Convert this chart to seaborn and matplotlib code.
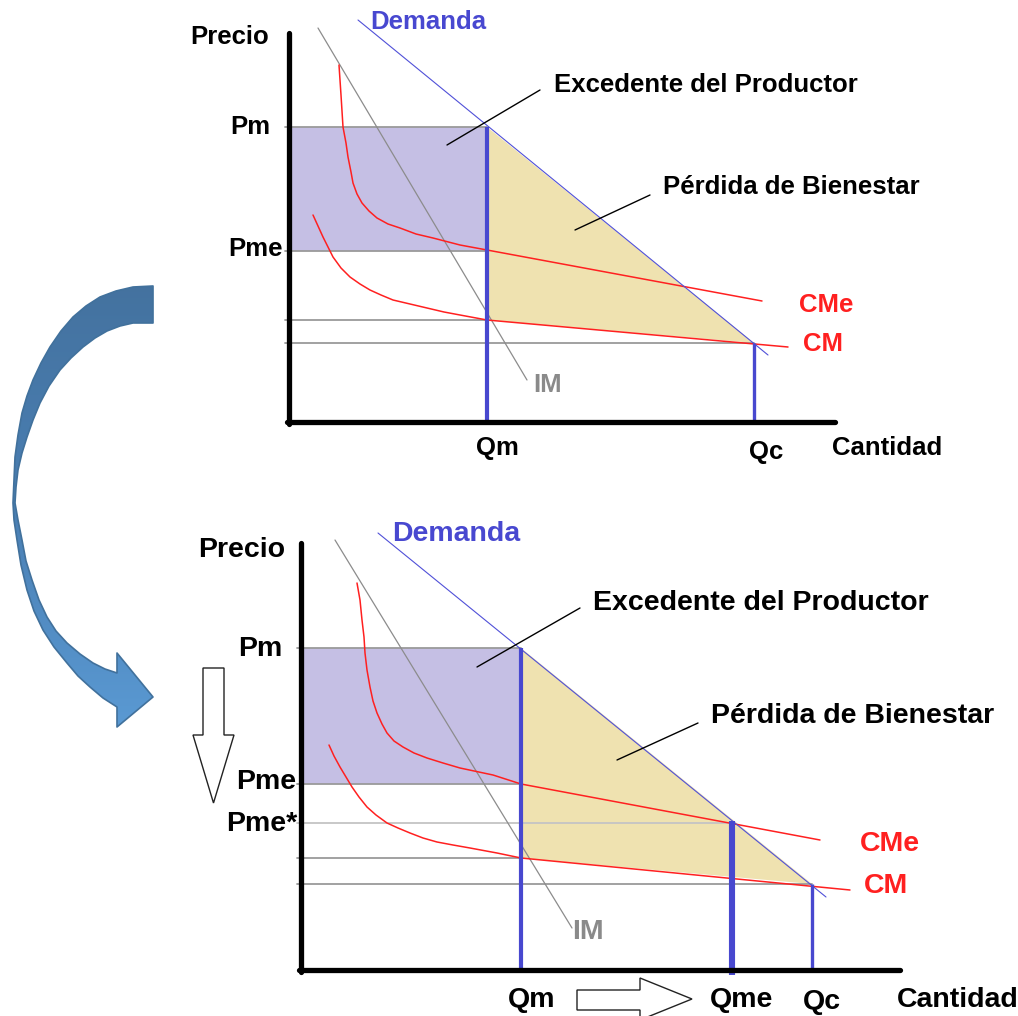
import numpy as np
import matplotlib
matplotlib.use("Agg")
import matplotlib.pyplot as plt
from matplotlib.patches import Polygon
import seaborn as sns

sns.set_style("white")
plt.rcParams['font.family'] = ['Liberation Sans', 'DejaVu Sans']

# ---- panel 1 (monopoly) : positions in pixel space of the picture ----
top_origin = (289, 422)
top_qm, top_qc = 487, 754
top_pm, top_pme, top_pcm, top_pc = 127, 251, 320, 343
top_demand_x = [358, 768]
top_demand_y = [20, 355]
top_im_x = [318, 527]
top_im_y = [28, 380]
top_cme_x = [339, 341, 343, 346, 348, 351, 353, 357, 362, 369, 377, 388, 400, 416, 433, 460, 487, 762]
top_cme_y = [65, 95, 127, 143, 157, 172, 183, 194, 203, 211, 218, 224, 228, 234, 238, 245, 250, 301]
top_cm_x = [313, 318, 323, 328, 333, 341, 350, 360, 370, 381, 393, 410, 427, 444, 460, 487, 788]
top_cm_y = [215, 226, 237, 247, 257, 268, 277, 284, 290, 295, 300, 304, 308, 312, 315, 320, 347]

# ---- panel 2 (price fixed at average cost) ----
bot_origin = (301, 970)
bot_qm, bot_qme, bot_qc = 521, 732, 812
bot_pm, bot_pme, bot_pme_star, bot_pcm, bot_pc = 648, 784, 823, 858, 884
bot_demand_x = [378, 826]
bot_demand_y = [533, 897]
bot_im_x = [335, 572]
bot_im_y = [540, 928]
bot_cme_x = [357, 360, 362, 364, 365, 367, 370, 373, 377, 382, 387, 394, 403, 414, 427, 443, 460, 493, 521, 820]
bot_cme_y = [583, 600, 620, 637, 653, 670, 687, 701, 713, 724, 733, 741, 747, 753, 758, 763, 768, 775, 784, 840]
bot_cm_x = [329, 334, 340, 346, 352, 359, 367, 376, 387, 398, 410, 423, 437, 453, 470, 497, 521, 850]
bot_cm_y = [745, 756, 767, 777, 787, 797, 807, 815, 823, 828, 833, 838, 842, 845, 848, 853, 858, 890]

# curved arrow outline (outer edge, head, inner edge)
arc_x = [153, 133, 116, 100, 86, 73, 61, 50, 41, 33, 27, 22, 18, 15, 13,
         14, 17, 21, 27, 34, 43, 54, 67, 78, 90, 103, 117,
         117, 153, 117,
         117, 105, 93, 80, 67, 56, 47, 39, 32, 26, 22, 18, 15,
         16, 18, 22, 27, 33, 40, 49, 60, 71, 83, 95, 107, 120, 133, 153]
arc_y = [286, 287, 291, 297, 306, 317, 331, 347, 363, 380, 396, 413, 435, 457, 503,
         520, 540, 565, 590, 611, 630, 647, 663, 676, 687, 698, 707,
         727, 697, 653,
         673, 669, 663, 654, 643, 631, 617, 600, 580, 561, 540, 520, 503,
         487, 470, 453, 437, 420, 403, 386, 370, 358, 347, 338, 331, 326, 323, 323]

down_x = [203, 224, 224, 234, 213.5, 193, 203]
down_y = [668, 668, 735, 735, 803, 735, 735]
right_x = [577, 640, 640, 692, 640, 640, 577]
right_y = [990, 990, 978, 999, 1020, 1010, 1010]

BLUE = '#4848cf'
RED = '#ff2020'
GRAY = '#9a9a9a'
PURPLE = '#c5bfe4'
TAN = '#efe2b0'

fig = plt.figure(figsize=(10.18, 10.16), dpi=100)
ax = fig.add_axes([0, 0, 1, 1])
ax.set_xlim(0, 1018)
ax.set_ylim(1016, 0)
ax.axis('off')


def panel(ax, origin, qs, prices, pcm, pc, dx, dy, imx, imy, cmex, cmey, cmx, cmy,
          xend, ytop, extra=None):
    ox, oy = origin
    qm, qc = qs[0], qs[-1]
    pm, pme = prices[0], prices[1]
    # shaded areas
    ax.add_patch(Polygon([(ox, pm), (qm, pm), (qm, pme), (ox, pme)], closed=True,
                         facecolor=PURPLE, edgecolor='none', zorder=1))
    ax.add_patch(Polygon([(qm, pm), (qc, pc), (qm, pcm)], closed=True,
                         facecolor=TAN, edgecolor='none', zorder=1))
    # gray guide lines
    for p in [pm, pme, pcm]:
        ax.plot([ox - 4, qm], [p, p], color=GRAY, lw=1.3, zorder=2)
    ax.plot([ox - 4, qc], [pc, pc], color=GRAY, lw=1.3, zorder=2)
    if extra is not None:
        ax.plot([ox - 4, extra[0]], [extra[1], extra[1]], color='#c4c4c4', lw=1.3, zorder=2)
    # curves
    sns.lineplot(x=imx, y=imy, sort=False, estimator=None, color='#8c8c8c', lw=0.9, ax=ax, zorder=3)
    sns.lineplot(x=cmex, y=cmey, sort=False, estimator=None, color=RED, lw=1.1, ax=ax, zorder=3)
    sns.lineplot(x=cmx, y=cmy, sort=False, estimator=None, color=RED, lw=1.1, ax=ax, zorder=3)
    sns.lineplot(x=dx, y=dy, sort=False, estimator=None, color='#5050d8', lw=0.8, ax=ax, zorder=4)
    # vertical quantity lines
    ax.plot([qm, qm], [pm, oy + 2], color=BLUE, lw=3, zorder=5, solid_capstyle='butt')
    ax.plot([qc, qc], [pc, oy + 2], color=BLUE, lw=2.4, zorder=5, solid_capstyle='butt')
    if extra is not None:
        ax.plot([extra[0], extra[0]], [extra[1] - 2, oy + 5], color=BLUE, lw=4.4, zorder=5,
                solid_capstyle='butt')
    # axes
    ax.plot([ox, ox], [ytop, oy + 2], color='black', lw=3.8, zorder=6, solid_capstyle='round')
    ax.plot([ox - 2, xend], [oy, oy], color='black', lw=3.8, zorder=6, solid_capstyle='round')


panel(ax, top_origin, [top_qm, top_qc], [top_pm, top_pme], top_pcm, top_pc,
      top_demand_x, top_demand_y, top_im_x, top_im_y, top_cme_x, top_cme_y,
      top_cm_x, top_cm_y, 835, 33)
panel(ax, bot_origin, [bot_qm, bot_qc], [bot_pm, bot_pme], bot_pcm, bot_pc,
      bot_demand_x, bot_demand_y, bot_im_x, bot_im_y, bot_cme_x, bot_cme_y,
      bot_cm_x, bot_cm_y, 900, 543, extra=(bot_qme, bot_pme_star))

# leader lines
ax.plot([447, 540], [145, 90], color='black', lw=1, zorder=7)
ax.plot([575, 650], [230, 195], color='black', lw=1, zorder=7)
ax.plot([477, 580], [667, 608], color='black', lw=1, zorder=7)
ax.plot([617, 698], [760, 723], color='black', lw=1, zorder=7)

# texts
kw = dict(fontweight='bold', va='center', ha='left')
top_labels = [("Precio", 190, 37, 'black'), ("Demanda", 370, 22, '#4848d0'),
              ("Excedente del Productor", 554, 85, 'black'),
              ("Pérdida de Bienestar", 663, 187, 'black'),
              ("Pm", 230, 127, 'black'), ("Pme", 228, 249, 'black'),
              ("CMe", 799, 305, RED), ("CM", 803, 344, RED), ("IM", 533, 385, '#8a8a8a'),
              ("Qm", 476, 448, 'black'), ("Qc", 749, 452, 'black'),
              ("Cantidad", 832, 448, 'black')]
for s, x, y, c in top_labels:
    ax.text(x, y, s, color=c, fontsize=18.5, **kw)

bot_labels = [("Precio", 198, 550, 'black'), ("Demanda", 392, 534, '#4848d0'),
              ("Excedente del Productor", 593, 603, 'black'),
              ("Pérdida de Bienestar", 711, 716, 'black'),
              ("Pm", 238, 649, 'black'), ("Pme", 236, 782, 'black'), ("Pme*", 226, 824, 'black'),
              ("CMe", 860, 844, RED), ("CM", 864, 886, RED), ("IM", 572, 932, '#8a8a8a'),
              ("Qm", 508, 1000, 'black'), ("Qme", 710, 1000, 'black'), ("Qc", 803, 1002, 'black'),
              ("Cantidad", 897, 1000, 'black')]
for s, x, y, c in bot_labels:
    ax.text(x, y, s, color=c, fontsize=20.5, **kw)

# hollow arrows
ax.add_patch(Polygon(list(zip(down_x, down_y)), closed=True, facecolor='white',
                     edgecolor='#222222', lw=1, zorder=7))
ax.add_patch(Polygon(list(zip(right_x, right_y)), closed=True, facecolor='white',
                     edgecolor='#222222', lw=1, zorder=7, clip_on=True))

# curved blue arrow with a vertical gradient
arc = Polygon(list(zip(arc_x, arc_y)), closed=True, facecolor='none',
              edgecolor='#41719c', lw=1.2, zorder=9, joinstyle='round')
ax.add_patch(arc)
grad = np.linspace(0, 1, 256).reshape(-1, 1)
cmap = matplotlib.colors.LinearSegmentedColormap.from_list('arc', ['#44729f', '#4a7fb3', '#5b9bd5'])
img = ax.imshow(grad, cmap=cmap, extent=[0, 170, 740, 280], aspect='auto', zorder=8)
img.set_clip_path(arc)
ax.set_xlim(0, 1018)
ax.set_ylim(1016, 0)

fig.savefig("out.png", dpi=100)
